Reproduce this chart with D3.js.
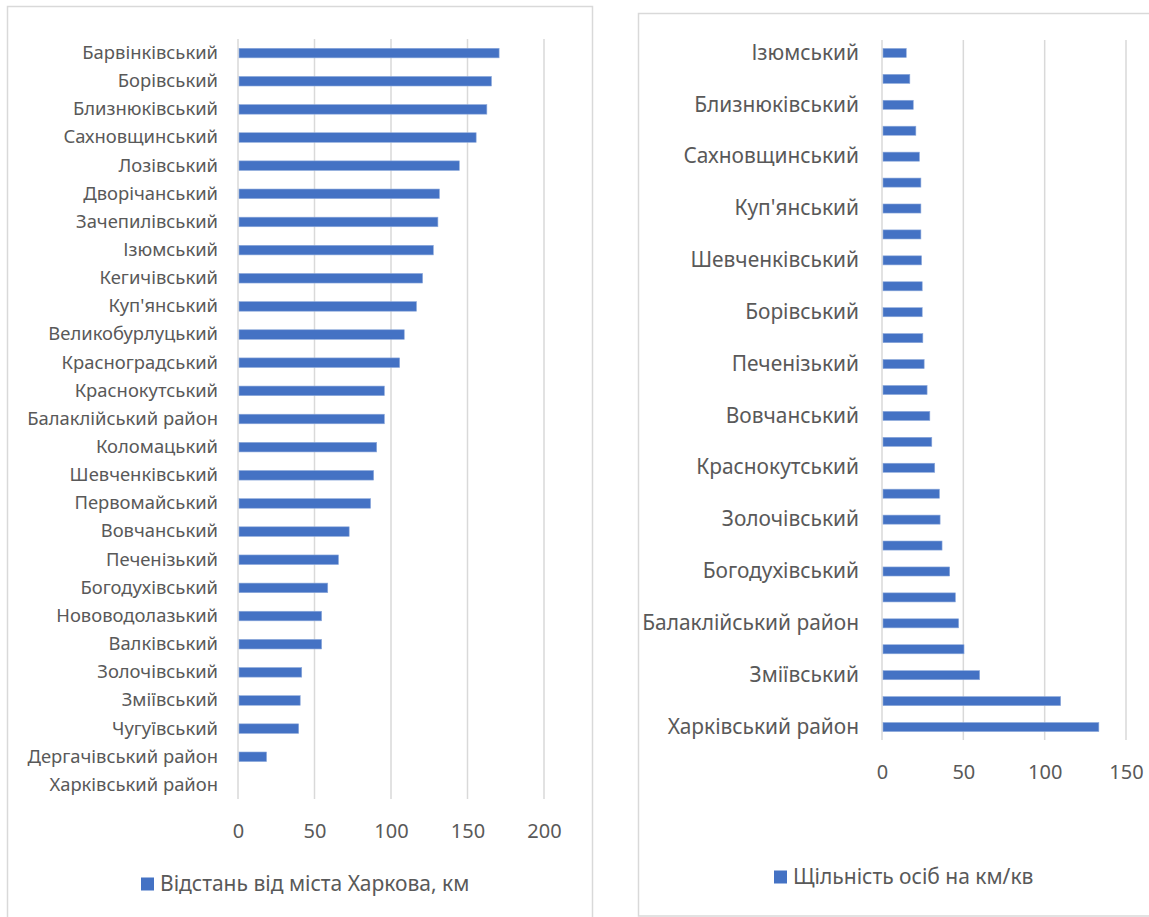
<!DOCTYPE html>
<html>
<head>
<meta charset="utf-8">
<script src="https://cdn.jsdelivr.net/npm/d3@7"></script>
<style>
  html, body { margin: 0; padding: 0; background: #fff; }
  svg { display: block; }
  text { font-family: "Noto Sans", "Open Sans", sans-serif; fill: #595959; }
</style>
</head>
<body>
<svg id="chart" width="1149" height="917"></svg>
<script>
// ---- Data: left chart (distance from Kharkiv, km), top to bottom ----
const distCategories = [
  "Барвінківський", "Борівський", "Близнюківський", "Сахновщинський", "Лозівський",
  "Дворічанський", "Зачепилівський", "Ізюмський", "Кегичівський", "Куп'янський",
  "Великобурлуцький", "Красноградський", "Краснокутський", "Балаклійський район",
  "Коломацький", "Шевченківський", "Первомайський", "Вовчанський", "Печенізький",
  "Богодухівський", "Нововодолазький", "Валківський", "Золочівський", "Зміївський",
  "Чугуївський", "Дергачівський район", "Харківський район"
];
const distValues = [
  170, 165, 162, 155, 144,
  131, 130, 127, 120, 116,
  108, 105, 95, 95,
  90, 88, 86, 72, 65,
  58, 54, 54, 41, 40,
  39, 18, 0
];
const distTicks = [0, 50, 100, 150, 200];
const distLegend = "Відстань від міста Харкова, км";

// ---- Data: right chart (population density, persons per sq. km), top to bottom ----
const densCategories = [
  "Ізюмський", "Барвінківський", "Близнюківський", "Дворічанський", "Сахновщинський",
  "Зачепилівський", "Куп'янський", "Лозівський", "Шевченківський", "Кегичівський",
  "Борівський", "Великобурлуцький", "Печенізький", "Красноградський", "Вовчанський",
  "Коломацький", "Краснокутський", "Первомайський", "Золочівський", "Валківський",
  "Богодухівський", "Нововодолазький", "Балаклійський район", "Чугуївський", "Зміївський",
  "Дергачівський район", "Харківський район"
];
const densValues = [
  14.3, 16.5, 18.6, 20.2, 22.4,
  23.3, 23.3, 23.3, 23.7, 24.1,
  24.1, 24.5, 25.3, 27.1, 28.8,
  30.0, 31.8, 34.7, 35.1, 36.3,
  41.0, 44.5, 46.5, 49.8, 59.4,
  109.2, 132.7
];
const densTicks = [0, 50, 100, 150];
const densLegend = "Щільність осіб на км/кв";

const BAR = "#4472C4";
const GRID = "#d9d9d9";

const svg = d3.select("#chart");

function drawChart(cfg) {
  const g = svg.append("g");
  // outer frame
  g.append("rect")
    .attr("x", cfg.frame[0]).attr("y", cfg.frame[1])
    .attr("width", cfg.frame[2]).attr("height", cfg.frame[3])
    .attr("fill", "none").attr("stroke", GRID).attr("stroke-width", 1.5);

  const x = d3.scaleLinear().domain(cfg.domain).range([cfg.x0, cfg.x1]);
  const y = d3.scaleBand().domain(cfg.categories).range([cfg.y0, cfg.y1])
    .paddingInner(cfg.pad).paddingOuter(cfg.pad / 2);

  // gridlines
  g.append("g").selectAll("line").data(cfg.ticks).join("line")
    .attr("x1", d => x(d)).attr("x2", d => x(d))
    .attr("y1", cfg.y0).attr("y2", cfg.y1)
    .attr("stroke", GRID).attr("stroke-width", 1.5);

  // bars
  g.append("g").selectAll("rect").data(cfg.values).join("rect")
    .attr("x", x(0) + 1)
    .attr("y", (d, i) => y(cfg.categories[i]))
    .attr("width", d => Math.max(0, x(d) - x(0)))
    .attr("height", y.bandwidth())
    .attr("fill", BAR)
    .attr("stroke", "#8eaadb").attr("stroke-width", 0.6);

  // category axis
  const yAxis = d3.axisLeft(y).tickSize(0).tickPadding(cfg.labelGap)
    .tickFormat((d, i) => (i % cfg.labelEvery === 0 ? d : ""));
  const ya = g.append("g").attr("transform", `translate(${cfg.x0},0)`).call(yAxis);
  ya.select(".domain").remove();
  ya.selectAll("text").style("font-size", cfg.catFont + "px")
    .style("font-family", '"Noto Sans", sans-serif').attr("fill", "#595959");

  // value axis
  const xAxis = d3.axisBottom(x).tickValues(cfg.ticks).tickSize(0).tickPadding(0)
    .tickFormat(d3.format("d"));
  const xa = g.append("g").attr("transform", `translate(0,${cfg.tickY})`).call(xAxis);
  xa.select(".domain").remove();
  xa.selectAll("text").attr("dy", "0.35em").attr("y", 0)
    .style("font-size", cfg.tickFont + "px")
    .style("font-family", '"Noto Sans", sans-serif').attr("fill", "#595959");

  // legend
  const lg = g.append("g");
  lg.append("rect").attr("x", cfg.legend[0]).attr("y", cfg.legend[1] - 6.5)
    .attr("width", 13).attr("height", 13).attr("fill", BAR);
  lg.append("text").attr("x", cfg.legend[0] + 19).attr("y", cfg.legend[1])
    .attr("dy", "0.35em").style("font-size", cfg.legendFont + "px")
    .text(cfg.legendText);
}

drawChart({
  frame: [7.5, 6.5, 585, 930],
  categories: distCategories, values: distValues, ticks: distTicks,
  domain: [0, 200], x0: 238, x1: 544, y0: 39, y1: 799, pad: 0.66,
  labelGap: 20, labelEvery: 1, catFont: 18.4, tickFont: 20, tickY: 831,
  legend: [141, 884], legendFont: 21, legendText: distLegend
});

drawChart({
  frame: [638.5, 13.5, 530, 902.5],
  categories: densCategories, values: densValues, ticks: densTicks,
  domain: [0, 150], x0: 882, x1: 1126, y0: 40, y1: 740, pad: 0.65,
  labelGap: 23, labelEvery: 2, catFont: 20.9, tickFont: 20, tickY: 772,
  legend: [774, 877], legendFont: 21, legendText: densLegend
});
</script>
</body>
</html>
